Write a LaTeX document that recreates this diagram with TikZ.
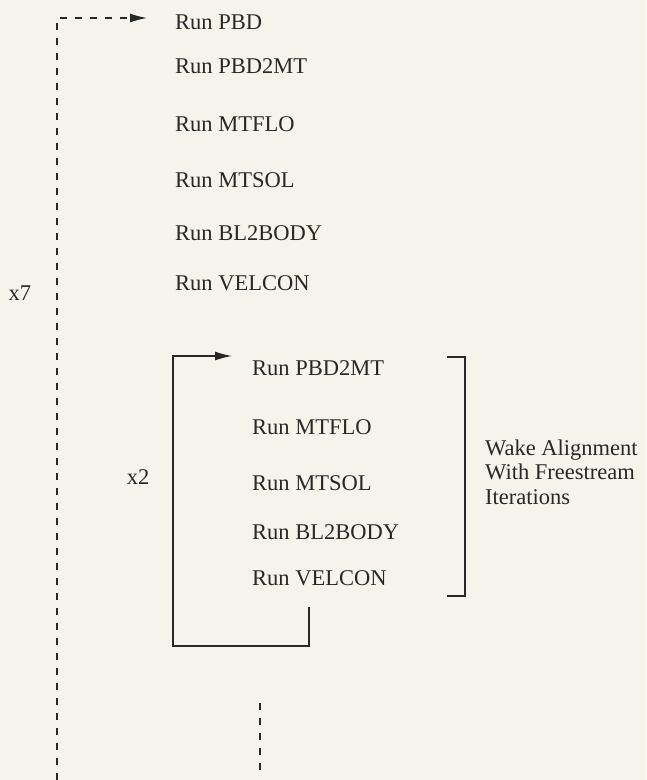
\documentclass[tikz,border=0pt]{standalone}
\usepackage{fontspec}
\setmainfont{Liberation Serif}
\usetikzlibrary{arrows.meta}
\definecolor{paper}{RGB}{245,243,234}
\definecolor{ink}{RGB}{40,40,40}
\tikzset{
  runstep/.style={anchor=west, inner sep=0pt, text=ink, font=\fontsize{22.5}{27}\selectfont},
  countlabel/.style={inner sep=0pt, text=ink, font=\fontsize{22.5}{27}\selectfont},
  loopline/.style={draw=ink, line width=1.3pt},
  outerloop/.style={draw=ink, line width=1.3pt, dash pattern=on 7pt off 8pt},
  looptip/.style={-{Latex[length=17pt,width=9pt]}},
}
\begin{document}
\begin{tikzpicture}[x=1pt,y=-1pt]
		\fill[paper] (0,0) rectangle (646,780);
		\useasboundingbox (0,0) rectangle (646,780);

		% OUTER LOOP
		\node[runstep] (pbd) at (175,22) {Run PBD};
		\node[runstep] (pbdmt) at (175,66) {Run PBD2MT};
		\node[runstep] (mtflo) at (175,124) {Run MTFLO};
		\node[runstep] (mtsol) at (175,180) {Run MTSOL};
		\node[runstep] (blbody) at (175,233) {Run BL2BODY};
		\node[runstep] (velcon) at (175,283) {Run VELCON};
		\node[countlabel] (seven) at (20,293) {x7};
		\coordinate (outbot) at (57,780);
		\coordinate (outtop) at (57,18);
		\draw[outerloop, looptip] (outbot) -- (outtop) -- ([xshift=-28pt, yshift=4pt]pbd.west);

		% INNER LOOP
		\node[runstep] (ipbdmt) at (252,368) {Run PBD2MT};
		\node[runstep] (imtflo) at (252,427) {Run MTFLO};
		\node[runstep] (imtsol) at (252,483) {Run MTSOL};
		\node[runstep] (iblbody) at (252,532) {Run BL2BODY};
		\node[runstep] (ivelcon) at (252,578) {Run VELCON};
		\node[countlabel] (two) at (138,477) {x2};
		\coordinate (boxrt) at (309,607);
		\coordinate (boxbl) at (173,646);
		\coordinate (boxtl) at (173,356);
		\draw[loopline, looptip] (boxrt) |- (boxbl) -- (boxtl) -- ([xshift=-20pt, yshift=12pt]ipbdmt.west);

		% WAKE ALIGNMENT BRACKET
		\node[runstep, align=left, font=\fontsize{22.5}{24.5}\selectfont] (wake) at (485,472) {Wake Alignment\\With Freestream\\Iterations};
		\coordinate (brtop) at (447,357);
		\coordinate (brbot) at (447,596);
		\draw[loopline] (brtop) -- ++(18,0) |- (brbot);

		% CONTINUATION
		\coordinate (lowtop) at (260,703);
		\coordinate (lowbot) at (260,773);
		\draw[outerloop] (lowtop) -- (lowbot);
	\end{tikzpicture}
\end{document}
